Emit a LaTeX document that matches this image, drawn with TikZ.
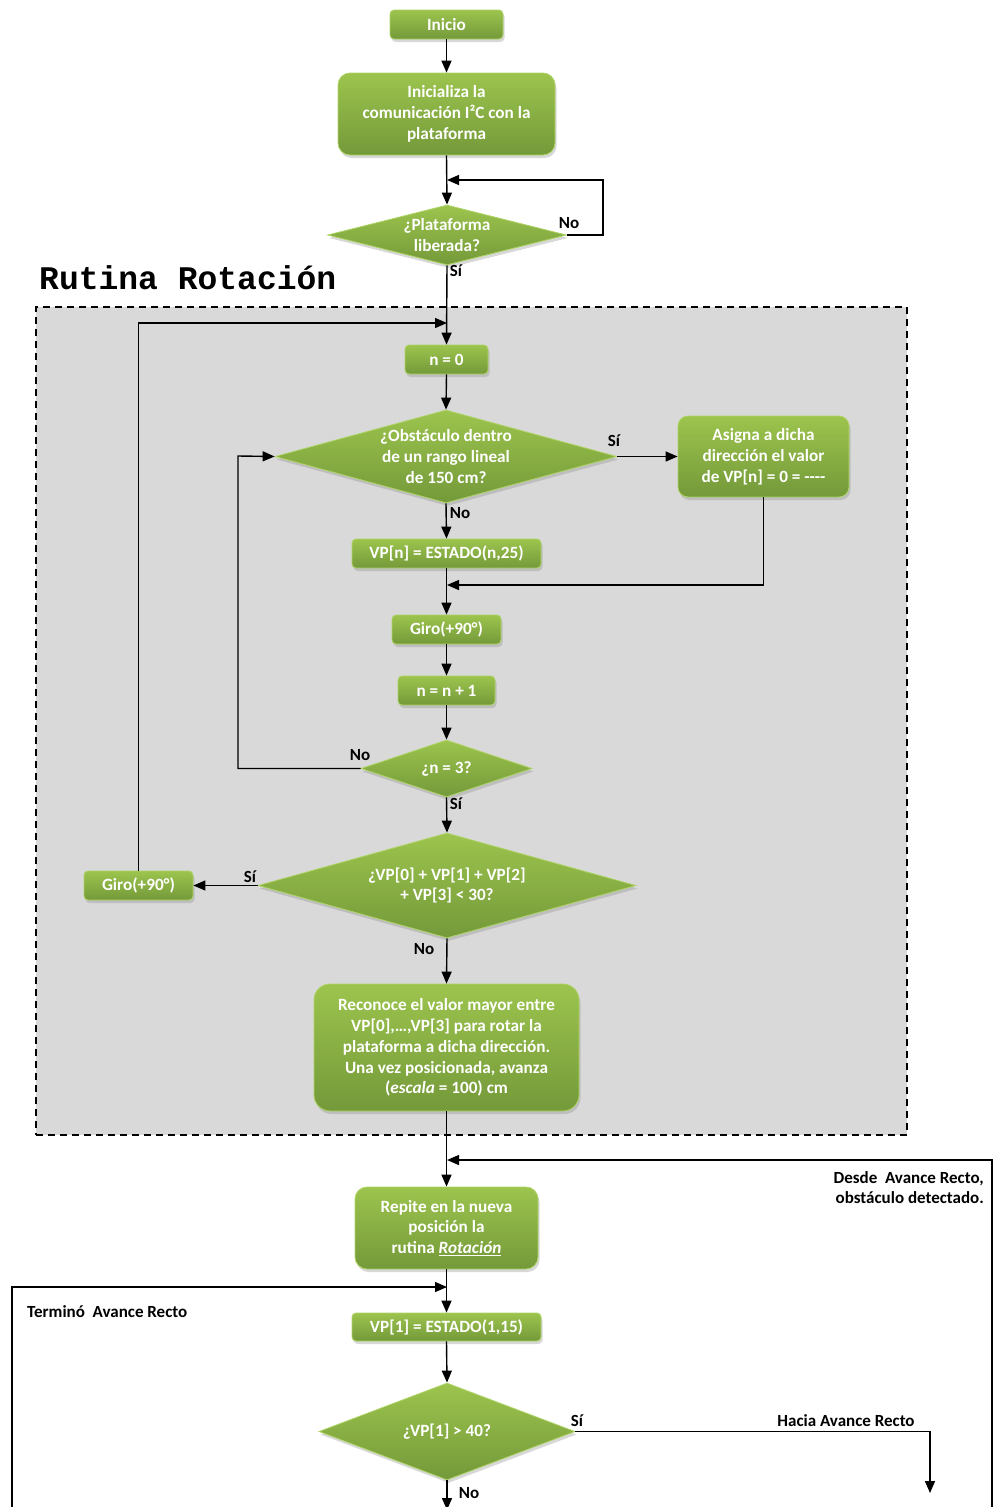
\documentclass[tikz,border=0pt]{standalone}
\usepackage{fontspec}
\setmainfont{Carlito}
\newfontfamily\titlefont{Liberation Mono}
\usetikzlibrary{shapes.geometric,arrows.meta,shadows}
\definecolor{gtop}{HTML}{9CC44D}
\definecolor{gbot}{HTML}{74993A}
\definecolor{gedge}{HTML}{AED465}
\definecolor{panelgray}{HTML}{D9D9D9}

\begin{document}
\begin{tikzpicture}[x=1pt,y=-1pt,
  font=\fontsize{17.2}{20.8}\selectfont\bfseries,
  boxbase/.style={draw=gedge, line width=0.8pt, top color=gtop, bottom color=gbot,
    text=white, align=center, inner sep=0pt,
    drop shadow={opacity=0.3, shadow xshift=1.5pt, shadow yshift=-3pt}},
  smallbox/.style={boxbase, rounded corners=4pt},
  bigbox/.style={boxbase, rounded corners=12pt},
  decision/.style={boxbase, diamond},
  dtext/.style={text=white, align=center},
  arr/.style={line width=1.4pt, -{Triangle[length=12pt,width=10pt]}},
  lbl/.style={text=black, font=\fontsize{17}{20}\selectfont\bfseries, inner sep=0pt},
  panelbox/.style={draw=black, fill=panelgray, line width=1.6pt, dash pattern=on 7pt off 5pt, inner sep=0pt}
]
% canvas
\fill[white] (0,0) rectangle (998,1507);
\useasboundingbox (0,0) rectangle (998,1507);

% dashed region of the rotation routine
\node[panelbox, minimum width=871, minimum height=828] (rot) at (471.5,721) {};
\node[font=\titlefont\fontsize{33}{36}\selectfont\bfseries, anchor=base west, inner sep=0pt] (title) at (39,289) {Rutina Rotación};

% start and initialisation
\node[smallbox, minimum width=113, minimum height=29] (ini) at (446.5,24.5) {Inicio};
\node[bigbox, minimum width=217, minimum height=82] (i2c) at (446.5,114) {Inicializa la\\comunicación I²C con la\\plataforma};
\node[decision, minimum width=239, minimum height=60,
  label={[dtext]center:{¿Plataforma\\liberada?}}] (plat) at (447,235) {};

% rotation routine
\node[smallbox, minimum width=83, minimum height=29] (n0) at (446.5,359.5) {n = 0};
\node[decision, minimum width=342, minimum height=93,
  label={[dtext]center:{¿Obstáculo dentro\\de un rango lineal\\de 150 cm?}}] (obst) at (446,456.5) {};
\node[bigbox, rounded corners=10pt, minimum width=171, minimum height=81] (asig) at (763.5,456.5) {Asigna a dicha\\dirección el valor\\de VP[n] = 0 = {-}{-}{-}{-}};
\node[smallbox, minimum width=189, minimum height=29] (vpn) at (446.5,553.5) {VP[n] = ESTADO(n,25)};
\node[smallbox, minimum width=109, minimum height=29] (giro) at (446.5,629.5) {Giro(+90°)};
\node[smallbox, minimum width=97, minimum height=29] (nn) at (446.5,690.5) {n = n + 1};
\node[decision, minimum width=171, minimum height=57,
  label={[dtext]center:{¿n = 3?}}] (n3) at (446.5,768.5) {};
\node[decision, minimum width=378, minimum height=105,
  label={[dtext]center:{¿VP[0] + VP[1] + VP[2]\\+ VP[3] < 30?}}] (sum) at (447,885.5) {};
\node[smallbox, minimum width=109, minimum height=29] (giro2) at (138.5,885.5) {Giro(+90°)};
\node[bigbox, rounded corners=16pt, minimum width=265, minimum height=127] (rec) at (446.5,1047.5) {Reconoce el valor mayor entre\\VP[0],…,VP[3] para rotar la\\plataforma a dicha dirección.\\Una vez posicionada, avanza\\(\textit{escala} = 100) cm};

% after the routine
\node[bigbox, minimum width=183, minimum height=82] (rep) at (446.5,1228) {Repite en la nueva\\posición la\\rutina \underline{\textit{Rotación}}};
\node[smallbox, minimum width=189, minimum height=28] (vp1) at (446.5,1327) {VP[1] = ESTADO(1,15)};
\node[decision, minimum width=256, minimum height=97,
  label={[dtext]center:{¿VP[1] > 40?}}] (cmp) at (447,1431.5) {};

% free ends of connectors
\coordinate (loopR) at (603,180);
\coordinate (loopIn) at (447,180);
\coordinate (lbIn) at (447,323);
\coordinate (mA) at (447,585);
\coordinate (n3L) at (238,456);
\coordinate (dR) at (992,1510);
\coordinate (dIn) at (447,1160);
\coordinate (tL) at (12,1510);
\coordinate (tIn) at (447,1287);
\coordinate (hac) at (930,1493);
\coordinate (cmpOut) at (447,1510);

% connectors
\draw[arr] (ini.south) -- (i2c.north);
\draw[arr] (i2c.south) -- (plat.north);
\draw[arr] (plat.east) -| (loopR) -- (loopIn);
\draw[arr] (plat.south) -- (n0.north);
\draw[arr] (giro2.north) |- (lbIn);
\draw[arr] (n0.south) -- (obst.north);
\draw[arr] (obst.east) -- (asig.west);
\draw[arr] (asig.south) |- (mA);
\draw[arr] (obst.south) -- (vpn.north);
\draw[arr] (vpn.south) -- (giro.north);
\draw[arr] (giro.south) -- (nn.north);
\draw[arr] (nn.south) -- (n3.north);
\draw[arr] (n3.west) -| (n3L) -- (obst.west);
\draw[arr] (n3.south) -- (sum.north);
\draw[arr] (sum.west) -- (giro2.east);
\draw[arr] (sum.south) -- (rec.north);
\draw[arr] (rec.south) -- (rep.north);
\draw[arr] (dR) |- (dIn);
\draw[arr] (rep.south) -- (vp1.north);
\draw[arr] (tL) |- (tIn);
\draw[arr] (vp1.south) -- (cmp.north);
\draw[arr] (cmp.east) -| (hac);
\draw[arr] (cmp.south) -- (cmpOut);

% branch labels
\node[lbl] (l1) at (569,223) {No};
\node[lbl] (l2) at (456,271) {Sí};
\node[lbl] (l3) at (614,441) {Sí};
\node[lbl] (l4) at (460,513) {No};
\node[lbl] (l5) at (360,755) {No};
\node[lbl] (l6) at (456,804) {Sí};
\node[lbl] (l7) at (250,877) {Sí};
\node[lbl] (l8) at (424,949) {No};
\node[lbl] (l9) at (577,1421) {Sí};
\node[lbl] (l10) at (469,1493) {No};
\node[lbl] (hacia) at (846,1421) {Hacia Avance Recto};
\node[lbl, anchor=west] (term) at (27,1312) {Terminó\ \ Avance Recto};
\node[lbl, anchor=north east, align=right] (desde) at (984,1171) {Desde\ \ Avance Recto,\\obstáculo detectado.};
\end{tikzpicture}
\end{document}
